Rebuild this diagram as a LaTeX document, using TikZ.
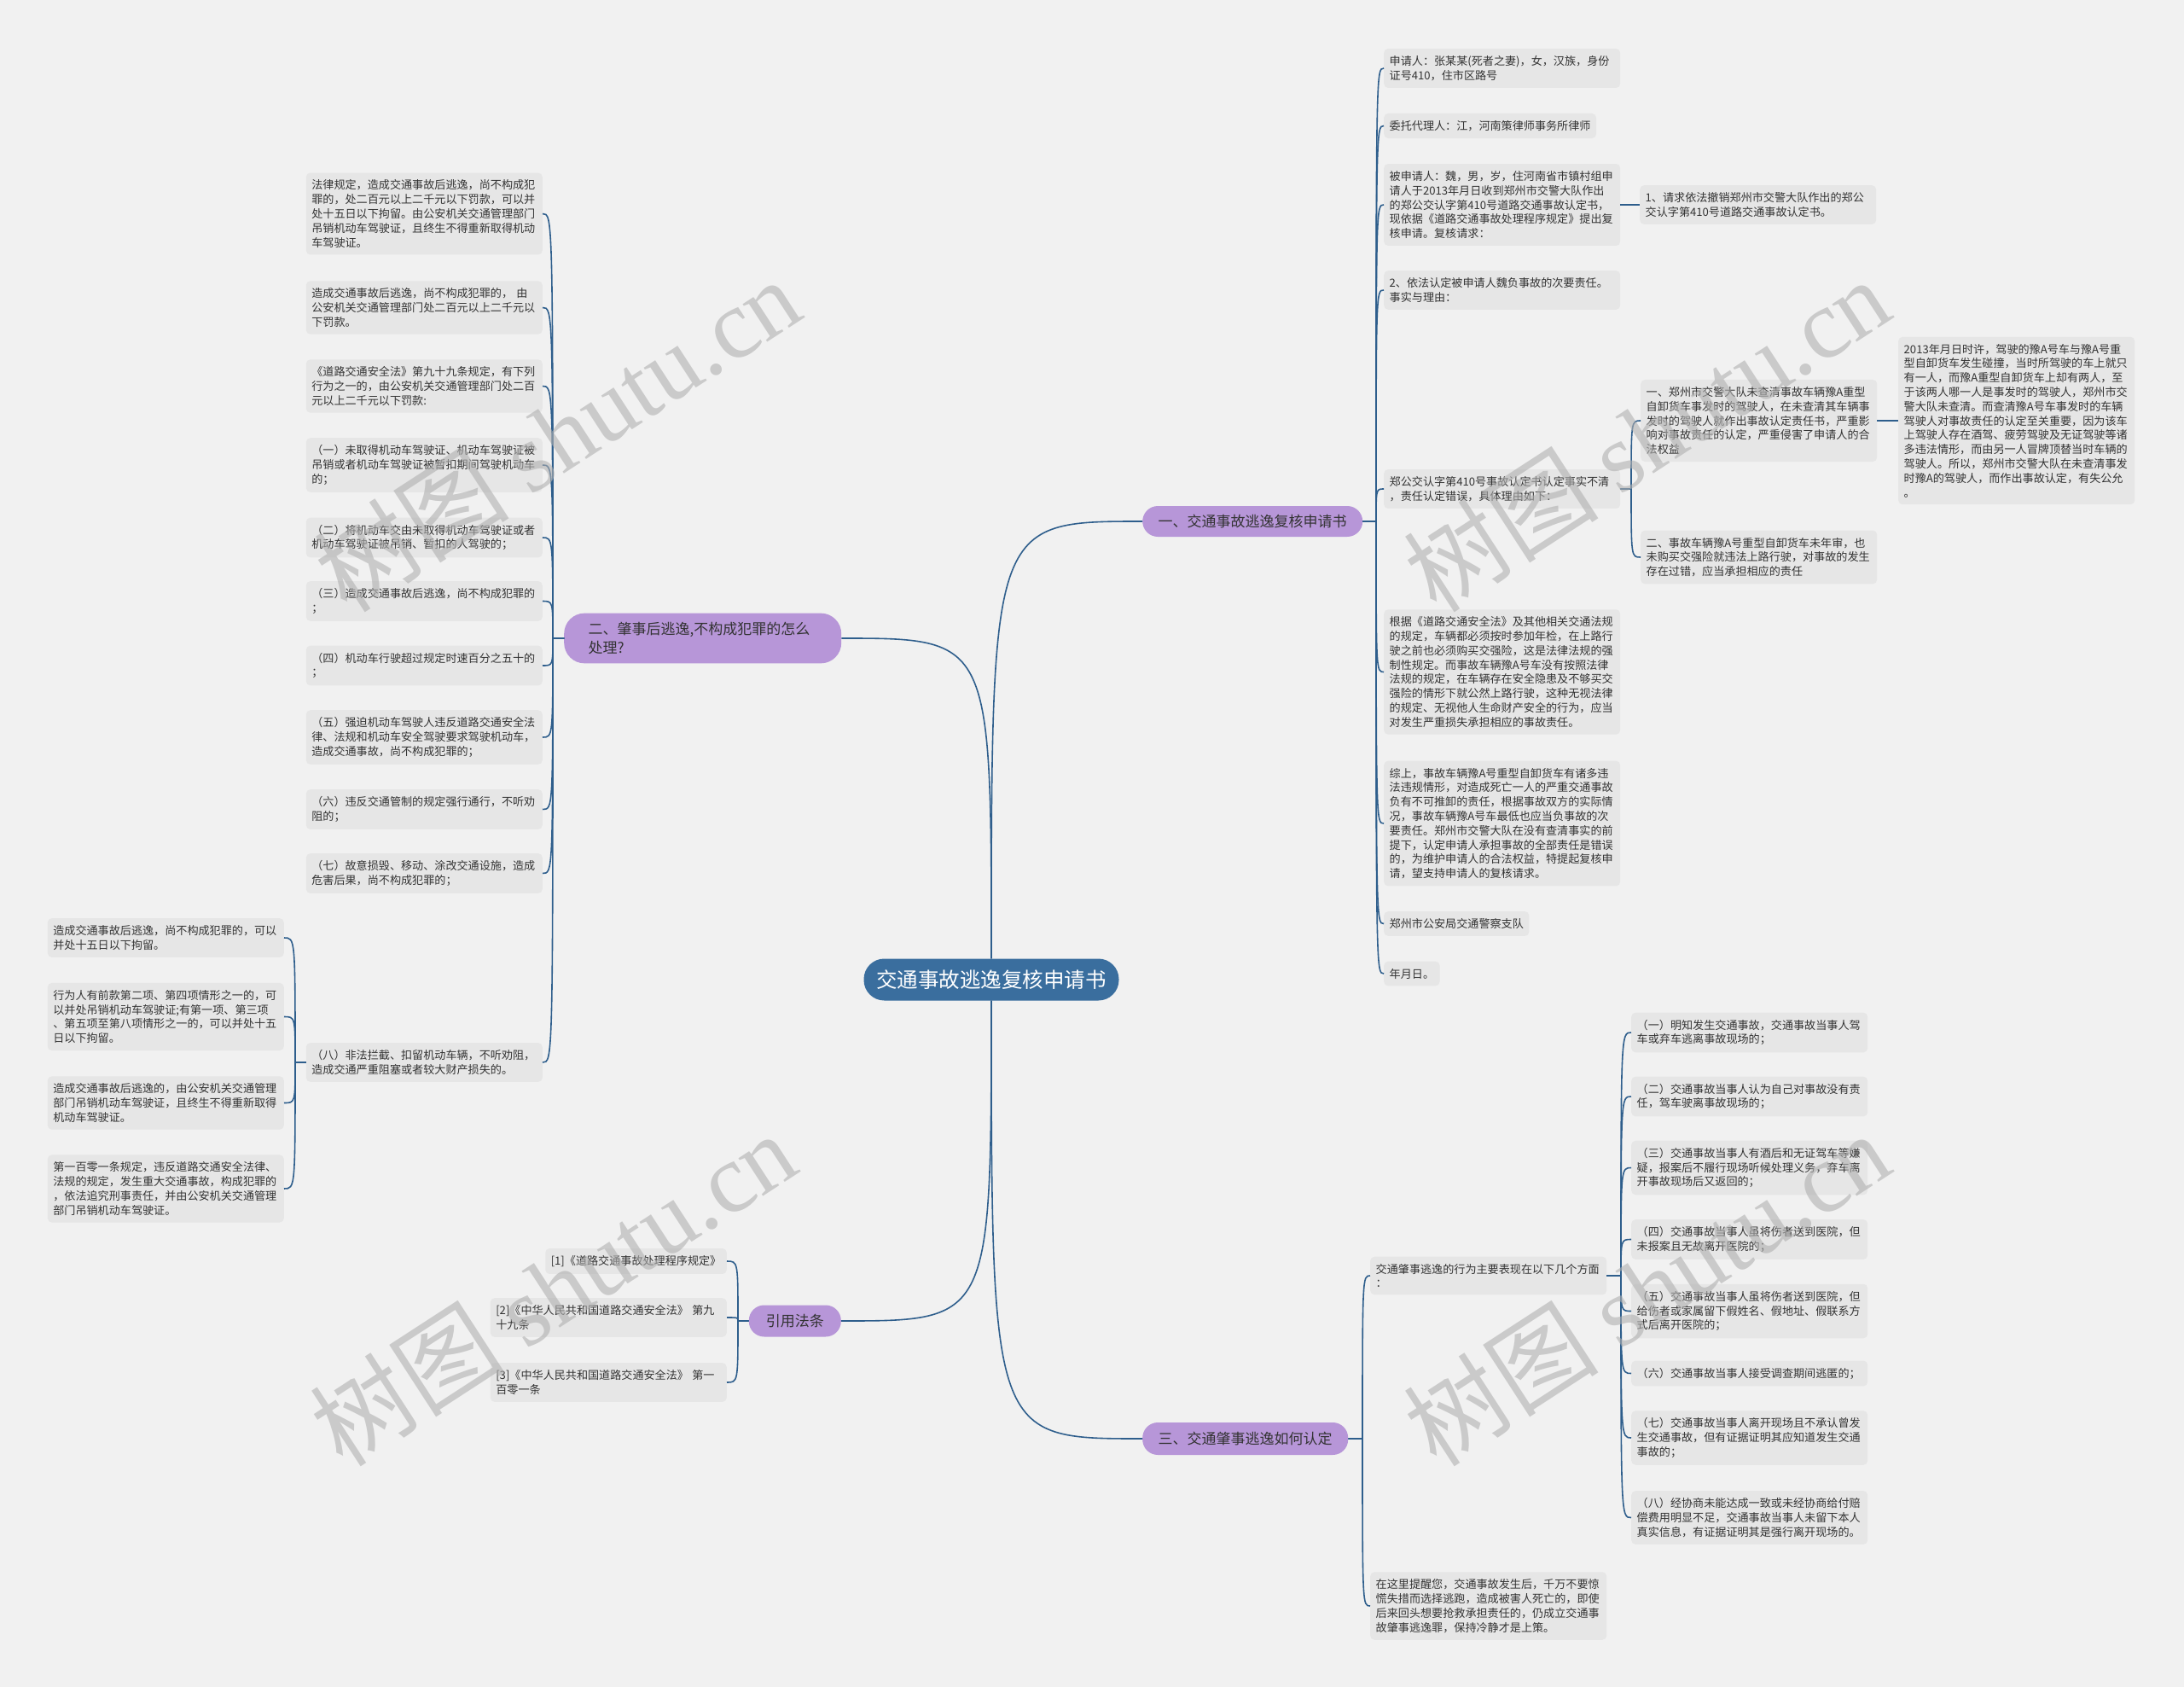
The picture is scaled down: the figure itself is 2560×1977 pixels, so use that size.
\documentclass[tikz,border=0pt]{standalone}
\usepackage{fontspec}
\setmainfont{Noto Sans CJK SC}
\newfontfamily\wmlatin{Liberation Serif}
\definecolor{bgc}{HTML}{F1F1F1}
\definecolor{boxc}{HTML}{E6E6E6}
\definecolor{txt}{HTML}{333333}
\definecolor{linec}{HTML}{2E5E8C}
\definecolor{rootc}{HTML}{3A6E9E}
\definecolor{purp}{HTML}{B796D8}
\definecolor{wm}{HTML}{B0B0B0}
\begin{document}
\begin{tikzpicture}[x=1pt,y=-1pt,
  leaf/.style={fill=boxc, rounded corners=5pt, inner xsep=6.5pt, inner ysep=8.3pt, align=left, text=txt, font=\fontsize{13.1}{16.8}\selectfont},
  lw/.style={leaf, text width=264pt},
  br/.style={fill=purp, text=txt, font=\fontsize{17}{22}\selectfont, inner sep=0pt, minimum height=37pt, rounded corners=18pt},
  conn/.style={draw=linec, line width=1.6pt},
  wmark/.style={text=wm, opacity=0.6, rotate=33, font=\fontsize{115}{115}\selectfont}
]
\fill[bgc] (0,0) rectangle (2560,1977);
\useasboundingbox (0,0) rectangle (2560,1977);

% root and main branches
\node[fill=rootc, text=white, font=\fontsize{24.5}{28}\selectfont, minimum width=299pt, minimum height=49pt, rounded corners=24pt, inner sep=0pt] (root) at (1162,1148) {交通事故逃逸复核申请书};
\node[br, minimum width=258pt, minimum height=36pt, anchor=west] (B1) at (1339,611) {一、交通事故逃逸复核申请书};
\node[br, anchor=west, text width=268pt, align=left, inner xsep=28.5pt, inner ysep=10.5pt, rounded corners=24pt] (B2) at (661,748) {二、肇事后逃逸,不构成犯罪的怎么\\处理?};
\node[br, minimum width=108pt, anchor=east] (B3) at (986,1548) {引用法条};
\node[br, minimum width=241pt, minimum height=38pt, anchor=west] (B4) at (1339,1686) {三、交通肇事逃逸如何认定};

% left column (branch 2)
\node[lw, anchor=east] (A) at (636,250.5) {法律规定，造成交通事故后逃逸，尚不构成犯\\罪的，处二百元以上二千元以下罚款，可以并\\处十五日以下拘留。由公安机关交通管理部门\\吊销机动车驾驶证，且终生不得重新取得机动\\车驾驶证。};
\node[lw, anchor=east] (B) at (636,360.5) {造成交通事故后逃逸，尚不构成犯罪的， 由\\公安机关交通管理部门处二百元以上二千元以\\下罚款。};
\node[lw, anchor=east] (C) at (636,452.5) {《道路交通安全法》第九十九条规定，有下列\\行为之一的，由公安机关交通管理部门处二百\\元以上二千元以下罚款:};
\node[lw, anchor=east] (D) at (636,545) {（一）未取得机动车驾驶证、机动车驾驶证被\\吊销或者机动车驾驶证被暂扣期间驾驶机动车\\的；};
\node[lw, anchor=east] (E) at (636,630) {（二）将机动车交由未取得机动车驾驶证或者\\机动车驾驶证被吊销、暂扣的人驾驶的；};
\node[lw, anchor=east] (F) at (636,704.5) {（三）造成交通事故后逃逸，尚不构成犯罪的\\；};
\node[lw, anchor=east] (G) at (636,780) {（四）机动车行驶超过规定时速百分之五十的\\；};
\node[lw, anchor=east] (H) at (636,864) {（五）强迫机动车驾驶人违反道路交通安全法\\律、法规和机动车安全驾驶要求驾驶机动车，\\造成交通事故，尚不构成犯罪的；};
\node[lw, anchor=east] (I) at (636,948.5) {（六）违反交通管制的规定强行通行，不听劝\\阻的；};
\node[lw, anchor=east] (J) at (636,1023.5) {（七）故意损毁、移动、涂改交通设施，造成\\危害后果，尚不构成犯罪的；};
\node[lw, anchor=east] (K) at (636,1245) {（八）非法拦截、扣留机动车辆，不听劝阻，\\造成交通严重阻塞或者较大财产损失的。};

% far-left column
\node[lw, anchor=east] (L1) at (333,1099) {造成交通事故后逃逸，尚不构成犯罪的，可以\\并处十五日以下拘留。};
\node[lw, anchor=east] (L2) at (333,1191.5) {行为人有前款第二项、第四项情形之一的，可\\以并处吊销机动车驾驶证;有第一项、第三项\\、第五项至第八项情形之一的，可以并处十五\\日以下拘留。};
\node[lw, anchor=east] (L3) at (333,1292.5) {造成交通事故后逃逸的，由公安机关交通管理\\部门吊销机动车驾驶证，且终生不得重新取得\\机动车驾驶证。};
\node[lw, anchor=east] (L4) at (333,1393) {第一百零一条规定，违反道路交通安全法律、\\法规的规定，发生重大交通事故，构成犯罪的\\，依法追究刑事责任，并由公安机关交通管理\\部门吊销机动车驾驶证。};

% citations
\node[leaf, anchor=east] (C1) at (852,1478) {[1]《道路交通事故处理程序规定》};
\node[lw, anchor=east] (C2) at (852,1544) {[2]《中华人民共和国道路交通安全法》 第九\\十九条};
\node[lw, anchor=east] (C3) at (852,1620) {[3]《中华人民共和国道路交通安全法》 第一\\百零一条};

% right column (branch 1)
\node[lw, anchor=west] (R1) at (1622,80) {申请人：张某某(死者之妻)，女，汉族，身份\\证号410，住市区路号};
\node[leaf, anchor=west] (R2) at (1622,147.5) {委托代理人：江，河南策律师事务所律师};
\node[lw, anchor=west] (R3) at (1622,240) {被申请人：魏，男，岁，住河南省市镇村组申\\请人于2013年月日收到郑州市交警大队作出\\的郑公交认字第410号道路交通事故认定书，\\现依据《道路交通事故处理程序规定》提出复\\核申请。复核请求：};
\node[lw, anchor=west] (R3c) at (1922,240) {1、请求依法撤销郑州市交警大队作出的郑公\\交认字第410号道路交通事故认定书。};
\node[lw, anchor=west] (R4) at (1622,340) {2、依法认定被申请人魏负事故的次要责任。\\事实与理由：};
\node[lw, anchor=west] (R5) at (1622,573) {郑公交认字第410号事故认定书认定事实不清\\，责任认定错误，具体理由如下：};
\node[lw, anchor=west] (R5a) at (1923,493) {一、郑州市交警大队未查清事故车辆豫A重型\\自卸货车事发时的驾驶人，在未查清其车辆事\\发时的驾驶人就作出事故认定责任书，严重影\\响对事故责任的认定，严重侵害了申请人的合\\法权益};
\node[lw, anchor=west] (R5b) at (1923,653) {二、事故车辆豫A号重型自卸货车未年审，也\\未购买交强险就违法上路行驶，对事故的发生\\存在过错，应当承担相应的责任};
\node[lw, anchor=west] (R5c) at (2225,493) {2013年月日时许，驾驶的豫A号车与豫A号重\\型自卸货车发生碰撞，当时所驾驶的车上就只\\有一人，而豫A重型自卸货车上却有两人，至\\于该两人哪一人是事发时的驾驶人，郑州市交\\警大队未查清。而查清豫A号车事发时的车辆\\驾驶人对事故责任的认定至关重要，因为该车\\上驾驶人存在酒驾、疲劳驾驶及无证驾驶等诸\\多违法情形，而由另一人冒牌顶替当时车辆的\\驾驶人。所以，郑州市交警大队在未查清事发\\时豫A的驾驶人，而作出事故认定，有失公允\\。};
\node[lw, anchor=west] (R6) at (1622,787.5) {根据《道路交通安全法》及其他相关交通法规\\的规定，车辆都必须按时参加年检，在上路行\\驶之前也必须购买交强险，这是法律法规的强\\制性规定。而事故车辆豫A号车没有按照法律\\法规的规定，在车辆存在安全隐患及不够买交\\强险的情形下就公然上路行驶，这种无视法律\\的规定、无视他人生命财产安全的行为，应当\\对发生严重损失承担相应的事故责任。};
\node[lw, anchor=west] (R7) at (1622,965) {综上，事故车辆豫A号重型自卸货车有诸多违\\法违规情形，对造成死亡一人的严重交通事故\\负有不可推卸的责任，根据事故双方的实际情\\况，事故车辆豫A号车最低也应当负事故的次\\要责任。郑州市交警大队在没有查清事实的前\\提下，认定申请人承担事故的全部责任是错误\\的，为维护申请人的合法权益，特提起复核申\\请，望支持申请人的复核请求。};
\node[leaf, anchor=west] (R8) at (1622,1082.5) {郑州市公安局交通警察支队};
\node[leaf, anchor=west] (R9) at (1622,1141) {年月日。};

% branch 4
\node[lw, anchor=west] (S1) at (1606,1495) {交通肇事逃逸的行为主要表现在以下几个方面\\：};
\node[lw, anchor=west] (S2) at (1606,1882) {在这里提醒您，交通事故发生后，千万不要惊\\慌失措而选择逃跑，造成被害人死亡的，即使\\后来回头想要抢救承担责任的，仍成立交通事\\故肇事逃逸罪，保持冷静才是上策。};
\node[lw, anchor=west] (T1) at (1912,1210) {（一）明知发生交通事故，交通事故当事人驾\\车或弃车逃离事故现场的；};
\node[lw, anchor=west] (T2) at (1912,1285) {（二）交通事故当事人认为自己对事故没有责\\任，驾车驶离事故现场的；};
\node[lw, anchor=west] (T3) at (1912,1368.5) {（三）交通事故当事人有酒后和无证驾车等嫌\\疑，报案后不履行现场听候处理义务，弃车离\\开事故现场后又返回的；};
\node[lw, anchor=west] (T4) at (1912,1452.5) {（四）交通事故当事人虽将伤者送到医院，但\\未报案且无故离开医院的；};
\node[lw, anchor=west] (T5) at (1912,1536.5) {（五）交通事故当事人虽将伤者送到医院，但\\给伤者或家属留下假姓名、假地址、假联系方\\式后离开医院的；};
\node[lw, anchor=west] (T6) at (1912,1609.5) {（六）交通事故当事人接受调查期间逃匿的；};
\node[lw, anchor=west] (T7) at (1912,1685) {（七）交通事故当事人离开现场且不承认曾发\\生交通事故，但有证据证明其应知道发生交通\\事故的；};
\node[lw, anchor=west] (T8) at (1912,1778.5) {（八）经协商未能达成一致或未经协商给付赔\\偿费用明显不足，交通事故当事人未留下本人\\真实信息，有证据证明其是强行离开现场的。};

% trunk points
\coordinate (t1) at (1613,611);
\coordinate (t2) at (648,748);
\coordinate (t3) at (865,1548);
\coordinate (t4) at (1597,1686);
\coordinate (tk) at (346,1245);
\coordinate (t5) at (1912,573);
\coordinate (ts) at (1900,1495);

% root connectors
\draw[conn] (root.north) .. controls (root.north |- B1.west) .. (B1.west);
\draw[conn] (root.north) .. controls (root.north |- B2.east) .. (B2.east);
\draw[conn] (root.south) .. controls (root.south |- B3.east) .. (B3.east);
\draw[conn] (root.south) .. controls (root.south |- B4.west) .. (B4.west);

% bracket connectors
\foreach \c in {R1,R2,R3,R4,R5,R6,R7,R8,R9}
  \draw[conn] (B1.east) -- (t1) .. controls (t1 |- \c.west) and (t1 |- \c.west) .. (\c.west);
\foreach \c in {A,B,C,D,E,F,G,H,I,J,K}
  \draw[conn] (B2.west) -- (t2) .. controls (t2 |- \c.east) and (t2 |- \c.east) .. (\c.east);
\foreach \c in {C1,C2,C3}
  \draw[conn] (B3.west) -- (t3) .. controls (t3 |- \c.east) and (t3 |- \c.east) .. (\c.east);
\foreach \c in {L1,L2,L3,L4}
  \draw[conn] (K.west) -- (tk) .. controls (tk |- \c.east) and (tk |- \c.east) .. (\c.east);
\foreach \c in {S1,S2}
  \draw[conn] (B4.east) -- (t4) .. controls (t4 |- \c.west) and (t4 |- \c.west) .. (\c.west);
\foreach \c in {R5a,R5b}
  \draw[conn] (R5.east) -- (t5) .. controls (t5 |- \c.west) and (t5 |- \c.west) .. (\c.west);
\foreach \c in {T1,T2,T3,T4,T5,T6,T7,T8}
  \draw[conn] (S1.east) -- (ts) .. controls (ts |- \c.west) and (ts |- \c.west) .. (\c.west);
\draw[conn] (R3.east) -- (R3c.west);
\draw[conn] (R5a.east) -- (R5c.west);

% watermarks
\node[wmark] (w1) at (653,509) {树图 {\wmlatin shutu.cn}};
\node[wmark] (w2) at (1930,509) {树图 {\wmlatin shutu.cn}};
\node[wmark] (w3) at (648,1510) {树图 {\wmlatin shutu.cn}};
\node[wmark] (w4) at (1930,1510) {树图 {\wmlatin shutu.cn}};
\end{tikzpicture}
\end{document}
